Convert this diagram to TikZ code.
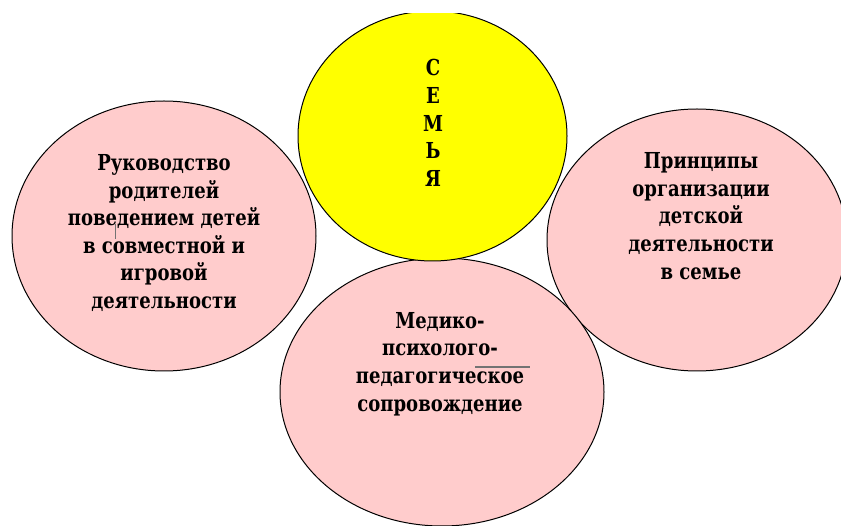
\documentclass[tikz,border=0pt]{standalone}
\usepackage{fontspec}
\setmainfont{DejaVu Serif}[FakeStretch=0.82]
\usetikzlibrary{shapes.geometric}
\definecolor{petal}{HTML}{FFCCCC}
\definecolor{sun}{HTML}{FFFF00}
\tikzset{
  petalbox/.style={ellipse, draw=black, line width=1pt, fill=petal, inner sep=0pt},
  sunbox/.style={ellipse, draw=black, line width=1pt, fill=sun, inner sep=0pt},
  lbl/.style={align=center, inner sep=0pt, font=\rmfamily\bfseries\fontsize{22}{27.6}\selectfont},
  artefact/.style={draw=black!55, line width=1.2pt}
}
\begin{document}
\begin{tikzpicture}[x=1pt,y=-1pt]
\useasboundingbox (0,0) rectangle (841,526);
\clip (0,0) rectangle (841,526);
\fill[white] (0,0) rectangle (841,526);
% petals
\node[petalbox, minimum width=304pt, minimum height=270pt] (left) at (164,236) {};
\node[petalbox, minimum width=300pt, minimum height=262pt] (right) at (697,240) {};
\node[petalbox, minimum width=324pt, minimum height=268pt] (bottom) at (442,392) {};
% centre
\begin{scope}
\clip (0,14) rectangle (841,526);
\node[sunbox, minimum width=269pt, minimum height=250pt] (sun) at (432.5,136) {};
\end{scope}
% texts
\node[lbl] (suntext) at (433,123) {С\\Е\\М\\Ь\\Я};
\node[lbl] (lefttext) at (164,233) {Руководство\\родителей\\поведением детей\\в совместной и\\игровой\\деятельности};
\node[lbl] (righttext) at (701,216) {Принципы\\организации\\детской\\деятельности\\в семье};
\node[lbl] (bottomtext) at (440,364) {Медико-\\психолого-\\педагогическое\\сопровождение};
% small marks seen in the picture
\coordinate (markA) at (115,224);
\coordinate (markB) at (115,239);
\draw[artefact, line width=1pt] (markA) -- (markB);
\coordinate (barA) at (475,367);
\coordinate (barB) at (530,367);
\draw[artefact] (barA) -- (barB);
\end{tikzpicture}
\end{document}
